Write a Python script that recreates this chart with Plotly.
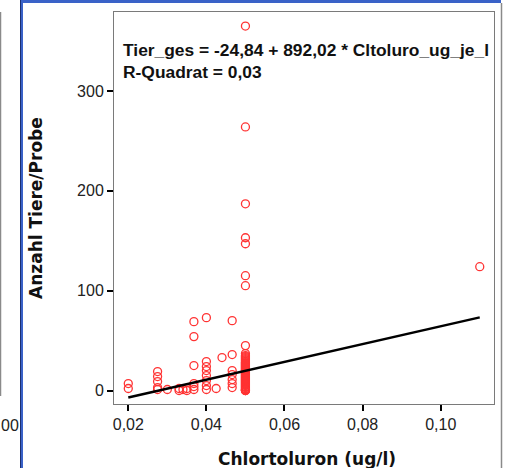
import plotly.graph_objects as go

# ---- data, one list per x column ----
col_x = [0.020, 0.0275, 0.030, 0.033, 0.034, 0.035, 0.0368, 0.040,
         0.0425, 0.044, 0.0466, 0.050, 0.110]
col_y = [
    [7, 2],
    [19, 14, 9, 3, 1],
    [1],
    [0, 2],
    [1],
    [0, 2],
    [69, 54, 25, 7, 4, 1],
    [73, 29, 24, 20, 15, 10, 5, 1],
    [2],
    [33],
    [70, 36, 20, 16, 11, 7, 3],
    [365, 264, 187, 153, 147, 115, 105, 45,
     37, 35, 34, 33, 32, 31, 30, 29, 28, 27.5, 27, 26, 25.5, 25, 24, 23.5,
     23, 22, 21.5, 21, 20, 19.5, 19, 18, 17.5, 17, 16, 15.5, 15, 14, 13.5,
     13, 12, 11.5, 11, 10, 9.5, 9, 8, 7.5, 7, 6, 5.5, 5, 4, 3.5, 3, 2,
     1.5, 1, 0.5, 0, 0, 0],
    [124],
]
x_vals = [cx for cx, ys in zip(col_x, col_y) for _ in ys]
y_vals = [v for ys in col_y for v in ys]

intercept = -24.84
slope = 892.02

x_tickvals = [0.02, 0.04, 0.06, 0.08, 0.10]
x_ticktext = ["0,02", "0,04", "0,06", "0,08", "0,10"]
y_tickvals = [0, 100, 200, 300]
y_ticktext = ["0", "100", "200", "300"]

fit_x = [min(x_vals), max(x_vals)]
fit_y = [intercept + slope * v for v in fit_x]

# ---- geometry helpers (pixel -> paper) ----
L, R, T, B = 114, 494, 12, 404
W, H = 506, 468
def px(x):
    return (x - L) / (R - L)
def py(y):
    return (B - y) / (B - T)

fig = go.Figure()
fig.add_trace(go.Scatter(
    x=x_vals, y=y_vals, mode="markers",
    marker=dict(symbol="circle-open", size=8, color="#ff3333",
                line=dict(width=1.3, color="#ff3333")),
    showlegend=False, hoverinfo="skip",
))
fig.add_trace(go.Scatter(
    x=fit_x, y=fit_y, mode="lines",
    line=dict(color="black", width=2.5),
    showlegend=False, hoverinfo="skip",
))

axis_common = dict(
    showgrid=False, zeroline=False, showline=True, linecolor="#7a7a7a",
    linewidth=1, mirror=True, ticks="outside", ticklen=6, tickwidth=2,
    tickcolor="black",
    tickfont=dict(family="Liberation Sans", size=16, color="#222222"),
)
fig.update_xaxes(range=[0.01634, 0.11365], tickvals=x_tickvals,
                 ticktext=x_ticktext, **axis_common)
fig.update_yaxes(range=[-13.5, 379.1], tickvals=y_tickvals,
                 ticktext=y_ticktext, **axis_common)

ann = []
ann.append(dict(xref="paper", yref="paper", x=px(121), y=py(50),
                xanchor="left", yanchor="middle", showarrow=False,
                text="<b>Tier_ges = -24,84 + 892,02 * Cltoluro_ug_je_l</b>",
                font=dict(family="Liberation Sans", size=17.4, color="#111111")))
ann.append(dict(xref="paper", yref="paper", x=px(121), y=py(71.5),
                xanchor="left", yanchor="middle", showarrow=False,
                text="<b>R-Quadrat = 0,03</b>",
                font=dict(family="Liberation Sans", size=17.4, color="#111111")))
ann.append(dict(xref="paper", yref="paper", x=px(307), y=py(459),
                xanchor="center", yanchor="middle", showarrow=False,
                text="<b>Chlortoluron (ug/l)</b>",
                font=dict(family="DejaVu Sans", size=17, color="#111111")))
ann.append(dict(xref="paper", yref="paper", x=px(36), y=py(208),
                xanchor="center", yanchor="middle", showarrow=False,
                textangle=-90,
                text="<b>Anzahl Tiere/Probe</b>",
                font=dict(family="DejaVu Sans", size=17, color="#111111")))
ann.append(dict(xref="paper", yref="paper", x=px(-1), y=py(425),
                xanchor="left", yanchor="middle", showarrow=False,
                text="00",
                font=dict(family="Liberation Sans", size=16, color="#222222")))

shapes = []
# window chrome: blue top bar and left blue separator
shapes.append(dict(type="rect", xref="paper", yref="paper",
                   x0=px(20), x1=px(501), y0=py(0), y1=py(3),
                   fillcolor="#3a62c8", line=dict(width=0), layer="above"))
shapes.append(dict(type="rect", xref="paper", yref="paper",
                   x0=px(20), x1=px(23), y0=py(0), y1=py(468),
                   fillcolor="#3a62c8", line=dict(width=0), layer="above"))
shapes.append(dict(type="line", xref="paper", yref="paper",
                   x0=px(20.5), x1=px(20.5), y0=py(0), y1=py(468),
                   line=dict(color="#1c2f70", width=1), layer="above"))
# left neighbour panel edge
shapes.append(dict(type="line", xref="paper", yref="paper",
                   x0=px(0.5), x1=px(0.5), y0=py(12), y1=py(396),
                   line=dict(color="#8a8a8a", width=1.5), layer="above"))
# right window edge
shapes.append(dict(type="line", xref="paper", yref="paper",
                   x0=px(501.5), x1=px(501.5), y0=py(3), y1=py(468),
                   line=dict(color="#8a8a8a", width=1.5), layer="above"))

fig.update_layout(
    width=W, height=H,
    margin=dict(l=L, r=W - R, t=T, b=H - B, pad=0),
    paper_bgcolor="white", plot_bgcolor="white",
    annotations=ann, shapes=shapes,
)

fig.write_html("out.html")
